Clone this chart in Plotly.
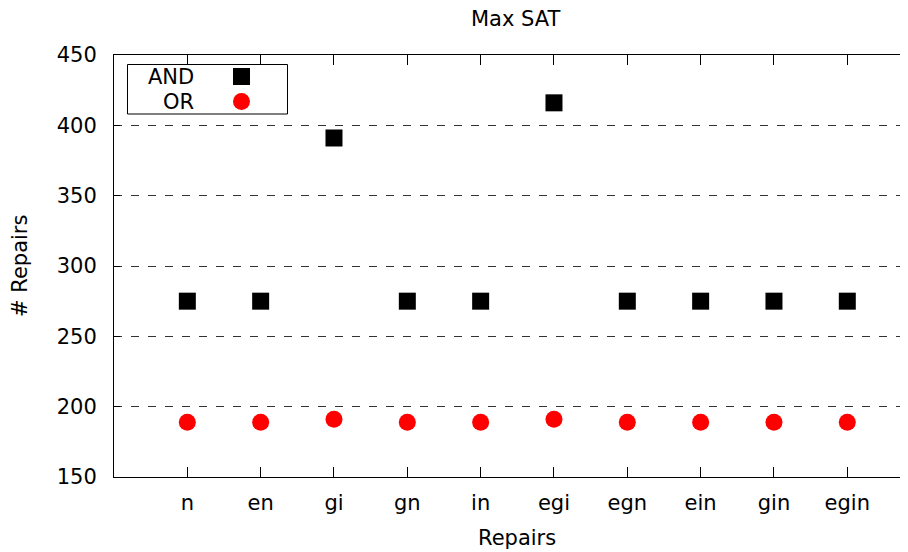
import plotly.graph_objects as go

categories = ["n", "en", "gi", "gn", "in", "egi", "egn", "ein", "gin", "egin"]
and_values = [275, 275, 391, 275, 275, 416, 275, 275, 275, 275]
or_values = [189, 189, 191, 189, 189, 191, 189, 189, 189, 189]
y_ticks = [150, 200, 250, 300, 350, 400, 450]

# page body has an 8px margin; work in window pixels and convert
OFF = 8
W, H = 908 - OFF, 552 - OFF
L, R, T, B = 114 - OFF, 908 - OFF, 55 - OFF, 477 - OFF  # plot area in figure pixels
pw, ph = R - L, B - T
spacing = 73.33

def px(xp):  # xp in window pixels
    return (xp - OFF - L) / pw

def py(yp):
    return (B - (yp - OFF)) / ph

xpos = list(range(1, len(categories) + 1))
FONT = "DejaVu Sans"
FS = 21

fig = go.Figure()
fig.add_trace(go.Scatter(x=xpos, y=and_values, mode="markers", name="AND",
                         marker=dict(symbol="square", size=17, color="#000000", line=dict(width=0)),
                         showlegend=False))
fig.add_trace(go.Scatter(x=xpos, y=or_values, mode="markers", name="OR",
                         marker=dict(symbol="circle", size=17, color="#ff0000", line=dict(width=0)),
                         showlegend=False))

fig.update_layout(
    width=W, height=H,
    margin=dict(l=L, r=W - R, t=T, b=H - B, pad=0),
    paper_bgcolor="white", plot_bgcolor="white",
    font=dict(family=FONT, size=FS, color="black"),
    showlegend=False,
)
fig.update_xaxes(
    range=[0, pw / spacing],
    tickmode="array", tickvals=xpos, ticktext=categories,
    ticks="inside", ticklen=10, tickcolor="black", tickwidth=1,
    showline=True, linecolor="black", linewidth=1, mirror="allticks",
    showgrid=False, zeroline=False,
    ticklabelstandoff=7,
    tickfont=dict(family=FONT, size=FS, color="black"),
)
fig.update_yaxes(
    range=[150, 450],
    tickmode="array", tickvals=y_ticks,
    ticks="inside", ticklen=6, tickcolor="black", tickwidth=1,
    showline=True, linecolor="black", linewidth=1, mirror=False,
    showgrid=True, gridcolor="#333333", gridwidth=1, griddash="8px,9px",
    zeroline=False,
    ticklabelstandoff=12,
    tickfont=dict(family=FONT, size=FS, color="black"),
)

annotations = [
    dict(text="Max SAT", x=px(516), y=py(19), xref="paper", yref="paper",
         xanchor="center", yanchor="middle", showarrow=False, font=dict(size=FS)),
    dict(text="Repairs", x=px(517), y=py(538), xref="paper", yref="paper",
         xanchor="center", yanchor="middle", showarrow=False, font=dict(size=FS)),
    dict(text="# Repairs", x=px(20), y=py(266), xref="paper", yref="paper",
         xanchor="center", yanchor="middle", showarrow=False, textangle=-90, font=dict(size=FS)),
    dict(text="AND", x=px(196), y=py(76.5), xref="paper", yref="paper",
         xanchor="right", yanchor="middle", showarrow=False, font=dict(size=FS)),
    dict(text="OR", x=px(196), y=py(101.5), xref="paper", yref="paper",
         xanchor="right", yanchor="middle", showarrow=False, font=dict(size=FS)),
]
fig.update_layout(annotations=annotations)

shapes = [
    dict(type="rect", xref="paper", yref="paper", x0=px(127.5), x1=px(287.5),
         y0=py(64.5), y1=py(114), line=dict(color="black", width=1), fillcolor="rgba(0,0,0,0)", layer="above"),
    dict(type="rect", xref="paper", yref="paper", xsizemode="pixel", ysizemode="pixel",
         xanchor=px(241.5), yanchor=py(76.5), x0=-8.5, x1=8.5, y0=-8.5, y1=8.5,
         line=dict(width=0), fillcolor="#000000", layer="above"),
    dict(type="circle", xref="paper", yref="paper", xsizemode="pixel", ysizemode="pixel",
         xanchor=px(241.5), yanchor=py(101.5), x0=-8.5, x1=8.5, y0=-8.5, y1=8.5,
         line=dict(width=0), fillcolor="#ff0000", layer="above"),
]
fig.update_layout(shapes=shapes)

fig.write_html("out.html")
